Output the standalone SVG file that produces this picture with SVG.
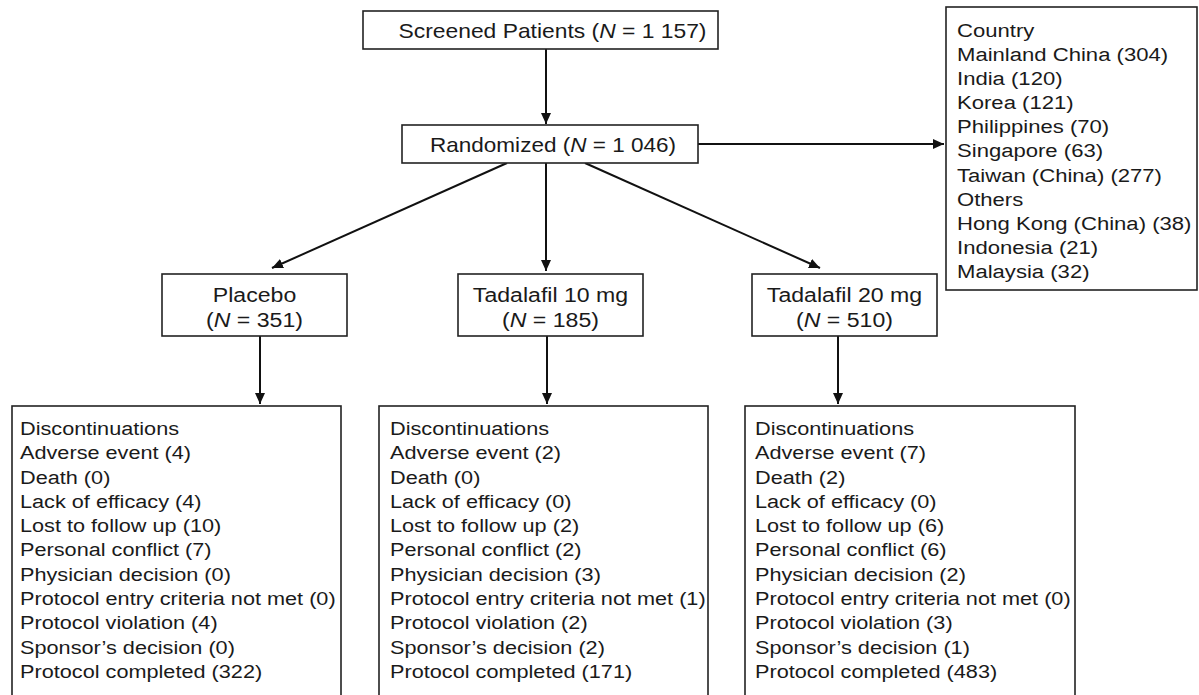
<svg xmlns="http://www.w3.org/2000/svg" width="1199" height="695" viewBox="0 0 1199 695">
<style>
  .box { fill: #ffffff; stroke: #222222; stroke-width: 1.6; }
  .t { font-family: "Liberation Sans", Arial, sans-serif; fill: #1a1a1a; }
  .top { font-size: 21px; text-anchor: middle; }
  .grp { font-size: 21px; text-anchor: middle; }
  .lst { font-size: 19.2px; }
  .conn line { stroke: #111111; stroke-width: 2; fill: none; }
  .i { font-style: italic; }
</style>
<defs>
  <marker id="arr" markerUnits="userSpaceOnUse" markerWidth="12" markerHeight="11" refX="11" refY="5" orient="auto">
    <path d="M0,0 L11,5 L0,10 z" fill="#111111"/>
  </marker>
</defs>
<rect width="1199" height="695" fill="#ffffff"/>

<g id="connectors" class="conn">
  <line x1="546" y1="49" x2="546" y2="124" marker-end="url(#arr)"/>
  <line x1="698" y1="144" x2="944" y2="144" marker-end="url(#arr)"/>
  <line x1="507" y1="163" x2="272" y2="268" marker-end="url(#arr)"/>
  <line x1="546" y1="163" x2="546" y2="271" marker-end="url(#arr)"/>
  <line x1="585" y1="163" x2="820" y2="268" marker-end="url(#arr)"/>
  <line x1="260" y1="336" x2="260" y2="404" marker-end="url(#arr)"/>
  <line x1="547" y1="336" x2="547" y2="404" marker-end="url(#arr)"/>
  <line x1="838" y1="336" x2="838" y2="404" marker-end="url(#arr)"/>
</g>

<g id="screened">
  <rect class="box" x="363" y="11" width="355" height="38"/>
  <text class="t top" x="552.5" y="38" textLength="308" lengthAdjust="spacingAndGlyphs">Screened Patients (<tspan class="i">N</tspan> = 1 157)</text>
</g>

<g id="randomized">
  <rect class="box" x="402" y="125" width="296" height="38"/>
  <text class="t top" x="553" y="152" textLength="246" lengthAdjust="spacingAndGlyphs">Randomized (<tspan class="i">N</tspan> = 1 046)</text>
</g>

<g id="country">
  <rect class="box" x="946" y="7" width="251" height="283"/>
  <g class="t lst" transform="translate(957,0) scale(1.15,1)">
    <text x="0" y="37">Country</text>
    <text x="0" y="61.1">Mainland China (304)</text>
    <text x="0" y="85.2">India (120)</text>
    <text x="0" y="109.3">Korea (121)</text>
    <text x="0" y="133.4">Philippines (70)</text>
    <text x="0" y="157.5">Singapore (63)</text>
    <text x="0" y="181.6">Taiwan (China) (277)</text>
    <text x="0" y="205.7">Others</text>
    <text x="0" y="229.8">Hong Kong (China) (38)</text>
    <text x="0" y="253.9">Indonesia (21)</text>
    <text x="0" y="278">Malaysia (32)</text>
  </g>
</g>

<g id="placebo">
  <rect class="box" x="162" y="274" width="185" height="62"/>
  <g class="t grp" transform="translate(254.5,0) scale(1.1,1)">
    <text x="0" y="302">Placebo</text>
    <text x="0" y="327">(<tspan class="i">N</tspan> = 351)</text>
  </g>
</g>

<g id="tadalafil10">
  <rect class="box" x="458" y="274" width="185" height="62"/>
  <g class="t grp" transform="translate(550.5,0) scale(1.1,1)">
    <text x="0" y="302">Tadalafil 10 mg</text>
    <text x="0" y="327">(<tspan class="i">N</tspan> = 185)</text>
  </g>
</g>

<g id="tadalafil20">
  <rect class="box" x="752" y="274" width="185" height="62"/>
  <g class="t grp" transform="translate(844.5,0) scale(1.1,1)">
    <text x="0" y="302">Tadalafil 20 mg</text>
    <text x="0" y="327">(<tspan class="i">N</tspan> = 510)</text>
  </g>
</g>

<g id="disc-placebo">
  <rect class="box" x="12" y="406" width="329" height="300"/>
  <g class="t lst" transform="translate(20,0) scale(1.13,1)">
    <text x="0" y="435">Discontinuations</text>
    <text x="0" y="459.3">Adverse event (4)</text>
    <text x="0" y="483.6">Death (0)</text>
    <text x="0" y="507.9">Lack of efficacy (4)</text>
    <text x="0" y="532.2">Lost to follow up (10)</text>
    <text x="0" y="556.5">Personal conflict (7)</text>
    <text x="0" y="580.8">Physician decision (0)</text>
    <text x="0" y="605.1">Protocol entry criteria not met (0)</text>
    <text x="0" y="629.4">Protocol violation (4)</text>
    <text x="0" y="653.7">Sponsor’s decision (0)</text>
    <text x="0" y="678">Protocol completed (322)</text>
  </g>
</g>

<g id="disc-tadalafil10">
  <rect class="box" x="379" y="406" width="329" height="300"/>
  <g class="t lst" transform="translate(390,0) scale(1.13,1)">
    <text x="0" y="435">Discontinuations</text>
    <text x="0" y="459.3">Adverse event (2)</text>
    <text x="0" y="483.6">Death (0)</text>
    <text x="0" y="507.9">Lack of efficacy (0)</text>
    <text x="0" y="532.2">Lost to follow up (2)</text>
    <text x="0" y="556.5">Personal conflict (2)</text>
    <text x="0" y="580.8">Physician decision (3)</text>
    <text x="0" y="605.1">Protocol entry criteria not met (1)</text>
    <text x="0" y="629.4">Protocol violation (2)</text>
    <text x="0" y="653.7">Sponsor’s decision (2)</text>
    <text x="0" y="678">Protocol completed (171)</text>
  </g>
</g>

<g id="disc-tadalafil20">
  <rect class="box" x="745" y="406" width="330" height="300"/>
  <g class="t lst" transform="translate(755,0) scale(1.13,1)">
    <text x="0" y="435">Discontinuations</text>
    <text x="0" y="459.3">Adverse event (7)</text>
    <text x="0" y="483.6">Death (2)</text>
    <text x="0" y="507.9">Lack of efficacy (0)</text>
    <text x="0" y="532.2">Lost to follow up (6)</text>
    <text x="0" y="556.5">Personal conflict (6)</text>
    <text x="0" y="580.8">Physician decision (2)</text>
    <text x="0" y="605.1">Protocol entry criteria not met (0)</text>
    <text x="0" y="629.4">Protocol violation (3)</text>
    <text x="0" y="653.7">Sponsor’s decision (1)</text>
    <text x="0" y="678">Protocol completed (483)</text>
  </g>
</g>
</svg>
